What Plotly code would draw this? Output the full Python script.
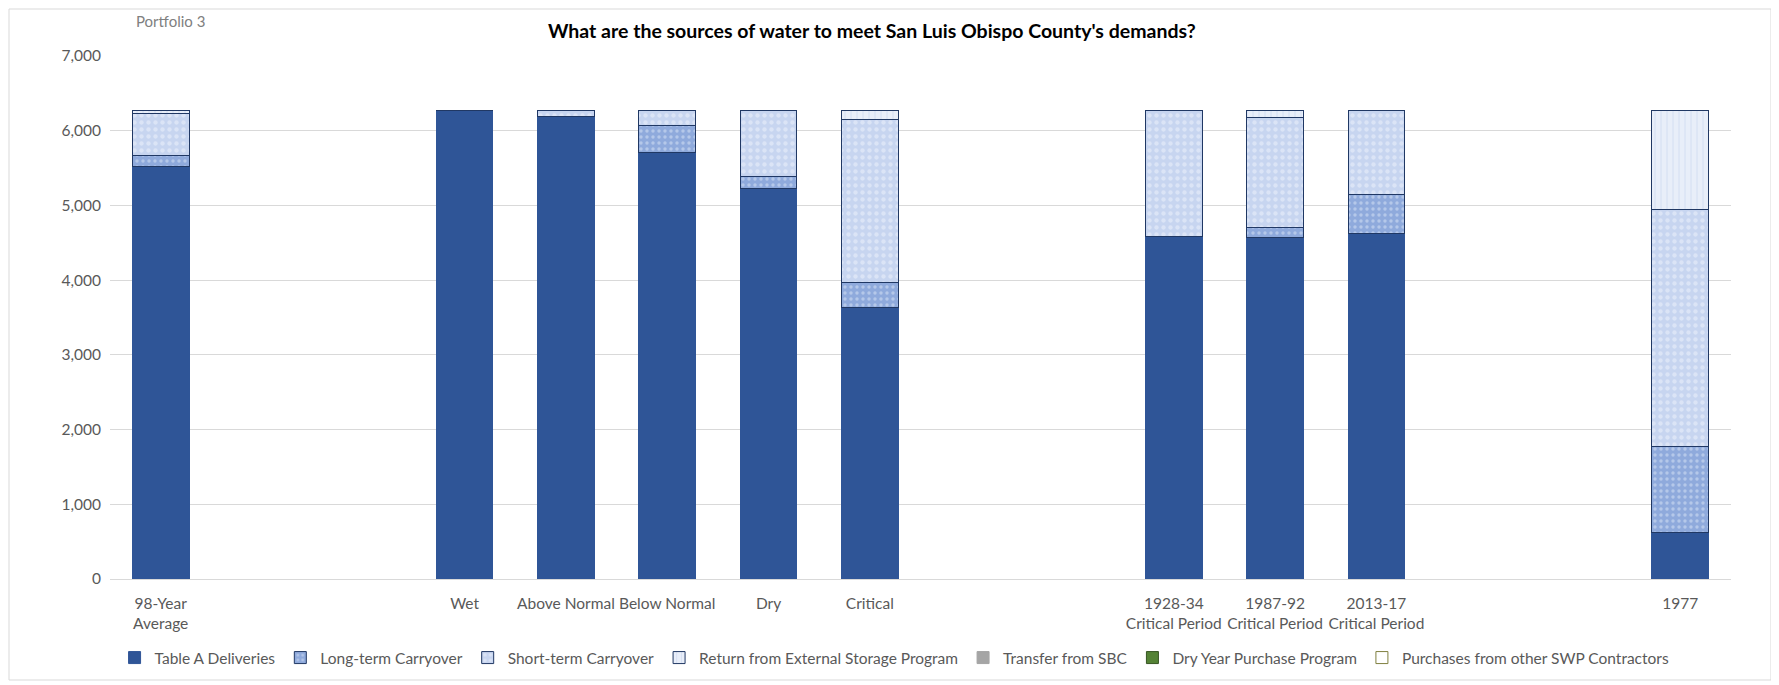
import plotly.graph_objects as go

# ---- data ----
categories = ["98-Year<br>Average", "Wet", "Above Normal", "Below Normal", "Dry", "Critical",
              "1928-34<br>Critical Period", "1987-92<br>Critical Period", "2013-17<br>Critical Period", "1977"]
# category order with empty spacer slots
axis_order = ["98-Year<br>Average", " ", "  ", "Wet", "Above Normal", "Below Normal", "Dry", "Critical",
              "   ", "    ", "1928-34<br>Critical Period", "1987-92<br>Critical Period",
              "2013-17<br>Critical Period", "     ", "      ", "1977"]

table_a      = [5520, 6270, 6190, 5710, 5220, 3630, 4590, 4570, 4630, 620]
long_term    = [155, 0, 0, 365, 165, 345, 0, 130, 520, 1150]
short_term   = [555, 0, 80, 195, 885, 2180, 1680, 1480, 1120, 3170]
return_ext   = [40, 0, 0, 0, 0, 115, 0, 90, 0, 1330]
transfer_sbc = [None] * 10
dry_year     = [None] * 10
purchases    = [None] * 10

series_names = ["Table A Deliveries", "Long-term Carryover", "Short-term Carryover",
                "Return from External Storage Program", "Transfer from SBC",
                "Dry Year Purchase Program", "Purchases from other SWP Contractors"]

title_text = "What are the sources of water to meet San Luis Obispo County's demands?"
subtitle_text = "Portfolio 3"

# ---- styling ----
# the page body has an 8px margin, so the figure is sized to fit the window
OFF = 8
W, H = 1779 - OFF, 685 - OFF
L, R, T, B = 110 - OFF, 48, 56 - OFF, 106
PH = H - T - B
FONT = "Lato, Liberation Sans, sans-serif"
GRAY = "#595959"
OUTLINE = "#203864"

styles = [
    dict(color="#2F5597", pattern=None, line="#2F5597"),
    dict(color="#8FAADC", pattern=dict(shape=".", fgcolor="#DCE5F6", size=6, solidity=0.25), line=OUTLINE),
    dict(color="#C7D5F0", pattern=dict(shape=".", fgcolor="#F0F4FB", size=7, solidity=0.3), line=OUTLINE),
    dict(color="#E8EEF9", pattern=dict(shape="|", fgcolor="#B9C9EA", size=6, solidity=0.15), line=OUTLINE),
    dict(color="#A5A5A5", pattern=None, line="#A5A5A5"),
    dict(color="#548235", pattern=None, line="#375623"),
    dict(color="#FFFFFF", pattern=None, line="#7F7F3F"),
]
values = [table_a, long_term, short_term, return_ext, transfer_sbc, dry_year, purchases]

fig = go.Figure()
for name, vals, st in zip(series_names, values, styles):
    marker = dict(color=st["color"], line=dict(color=st["line"], width=1))
    if st["pattern"]:
        marker["pattern"] = st["pattern"]
    fig.add_trace(go.Bar(x=categories, y=vals, name=name, marker=marker))

plot_w = W - L - R
fig.update_layout(
    width=W, height=H,
    barmode="stack", bargap=0.44,
    margin=dict(l=L, r=R, t=T, b=B, autoexpand=False),
    paper_bgcolor="white", plot_bgcolor="white",
    font=dict(family=FONT, size=15, color=GRAY),
    showlegend=True,
    legend=dict(orientation="h", x=0.484, xanchor="center", y=-(658 - OFF - (H - B)) / PH, yanchor="middle",
                font=dict(size=15.5, color=GRAY), itemwidth=30, traceorder="normal"),
    xaxis=dict(type="category", categoryorder="array", categoryarray=axis_order,
               tickangle=0, showgrid=False, showline=True, linecolor="#D9D9D9",
               ticks="", tickfont=dict(size=15.5, color=GRAY), range=[-0.5, 15.5],
               ticklabelstandoff=10),
    yaxis=dict(range=[0, 7000], tickvals=[0, 1000, 2000, 3000, 4000, 5000, 6000, 7000],
               tickformat=",d", showgrid=True, gridcolor="#D9D9D9", gridwidth=1,
               zeroline=False, ticks="", tickfont=dict(size=15.5, color=GRAY),
               ticklabelstandoff=8),
    annotations=[
        dict(text="<b>" + title_text + "</b>", xref="paper", yref="paper",
             x=(872 - OFF - L) / plot_w, y=1 + (T - (31 - OFF)) / PH, xanchor="center", yanchor="middle",
             showarrow=False, font=dict(size=19.5, color="#000000", family=FONT)),
        dict(text=subtitle_text, xref="paper", yref="paper",
             x=(134 - OFF - L) / plot_w, y=1 + (T - (21 - OFF)) / PH, xanchor="left", yanchor="middle",
             showarrow=False, font=dict(size=15, color="#808080", family=FONT)),
    ],
    shapes=[
        dict(type="rect", xref="paper", yref="paper",
             x0=(1 - L) / plot_w, x1=(1771 - OFF - L) / plot_w,
             y0=-(B - (H - (680 - OFF))) / PH, y1=1 + (T - 1) / PH,
             line=dict(color="#D9D9D9", width=1), fillcolor="rgba(0,0,0,0)", layer="below"),
    ],
)

fig.write_html("out.html")
